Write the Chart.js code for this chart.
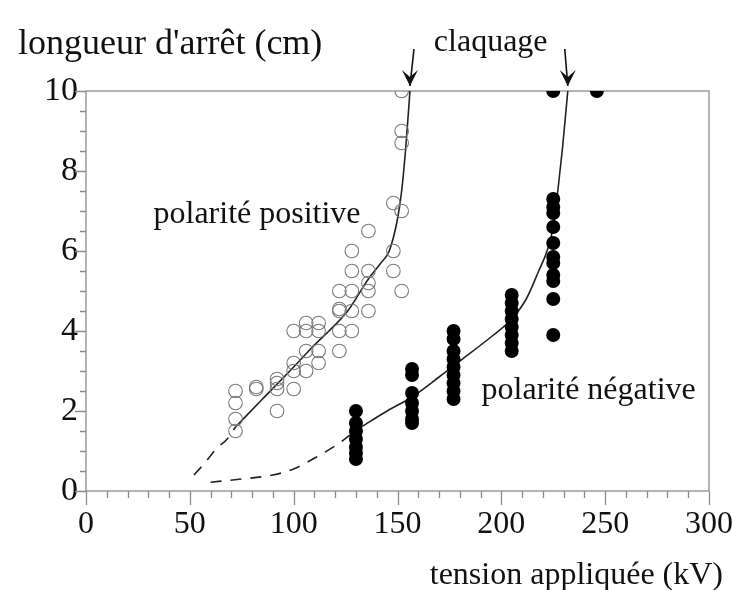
<!DOCTYPE html>
<html>
<head>
<meta charset="utf-8">
<script src="https://cdn.jsdelivr.net/npm/chart.js@4"></script>
<style>
html,body{margin:0;padding:0;background:#fff;}
#wrap{width:733px;height:590px;}
</style>
</head>
<body>
<div id="wrap"><canvas id="c" width="733" height="590"></canvas></div>
<script>
// ---- data (kV, cm) ----
const xTicks = [0, 50, 100, 150, 200, 250, 300];
const yTicks = [0, 2, 4, 6, 8, 10];

const posKV  = [72,72,72,72, 82,82, 92,92,92,92, 100,100,100,100, 106,106,106,106, 112,112,112,112, 122,122,122,122,122, 128,128,128,128,128, 136,136,136,136,136, 148,148,148, 152,152,152,152,152];
const posLen = [2.5,2.2,1.8,1.5, 2.6,2.55, 2.8,2.7,2.55,2.0, 4.0,3.2,3.0,2.55, 4.2,4.0,3.5,3.0, 4.2,4.0,3.5,3.2, 5.0,4.55,4.5,4.0,3.5, 6.0,5.5,5.0,4.5,4.0, 6.5,5.5,5.2,5.0,4.5, 7.2,6.0,5.5, 10,9.0,8.7,7.0,5.0];

const negKV  = [130,130,130,130,130,130,130, 157,157,157,157,157,157,157, 177,177,177,177,177,177,177,177,177, 205,205,205,205,205,205,205,205, 225,225,225,225,225,225,225,225,225,225,225,225, 246];
const negLen = [2.0,1.7,1.5,1.3,1.1,0.95,0.8, 3.05,2.9,2.45,2.2,2.0,1.8,1.7, 4.0,3.8,3.5,3.3,3.1,2.9,2.7,2.5,2.3, 4.9,4.7,4.5,4.3,4.1,3.9,3.7,3.5, 10,7.3,7.1,6.95,6.6,6.2,5.85,5.7,5.4,5.25,4.8,3.9, 10];

const posDashKV   = [52, 58, 63, 68, 72];
const posDashLen  = [0.4, 0.75, 1.07, 1.3, 1.6];
const posCurveKV  = [72, 85, 100, 110, 117, 126, 136, 142, 146, 150, 152, 154, 156];
const posCurveLen = [1.6, 2.3, 3.1, 3.65, 4.0, 4.5, 5.3, 5.7, 6.0, 6.8, 7.5, 8.6, 10];

const negDashKV   = [60, 75, 90, 100, 111, 122, 131];
const negDashLen  = [0.22, 0.3, 0.4, 0.55, 0.85, 1.2, 1.55];
const negCurveKV  = [131, 145, 157, 170, 180, 195, 205, 212, 218, 222, 225, 227, 229.5, 232];
const negCurveLen = [1.55, 2.0, 2.35, 2.85, 3.25, 3.85, 4.3, 4.8, 5.5, 6.0, 6.6, 7.4, 8.6, 10];

const breakdownKV = [156, 232];

const yTitle = "longueur d'arrêt (cm)";
const xTitle = "tension appliquée (kV)";
const breakdownLabel = "claquage";
const posLabel = "polarité positive";
const negLabel = "polarité négative";
const posLabelAt = [32.5, 6.9];
const negLabelAt = [190.5, 2.5];

// ---- helpers ----
const zip = (xs, ys) => xs.map((x, i) => ({x: x, y: ys[i]}));
const SERIF = "'Liberation Serif', 'Times New Roman', serif";
const FRAME = '#8c8c8c';

const decor = {
  id: 'decor',
  beforeDatasetsDraw(chart) {
    const ctx = chart.ctx, a = chart.chartArea;
    const xs = chart.scales.x, ys = chart.scales.y;
    ctx.save();
    ctx.strokeStyle = FRAME;
    ctx.lineWidth = 1.3;
    ctx.strokeRect(a.left, a.top, a.right - a.left, a.bottom - a.top);
    ctx.beginPath();
    for (let v = 0; v <= 10.001; v += 0.5) {
      const p = Math.round(ys.getPixelForValue(v)) + 0.5;
      const major = Math.abs(v / 2 - Math.round(v / 2)) < 1e-6;
      ctx.moveTo(a.left, p);
      ctx.lineTo(a.left - (major ? 11 : 6), p);
    }
    for (let v = 0; v <= 300; v += 10) {
      const p = Math.round(xs.getPixelForValue(v)) + 0.5;
      const major = v % 50 === 0;
      ctx.moveTo(p, a.bottom);
      ctx.lineTo(p, a.bottom + (major ? 14 : 7));
    }
    ctx.stroke();
    ctx.restore();
  },
  afterDraw(chart) {
    const ctx = chart.ctx, a = chart.chartArea;
    const xs = chart.scales.x, ys = chart.scales.y;
    ctx.save();
    ctx.fillStyle = '#111';
    ctx.textBaseline = 'middle';
    ctx.textAlign = 'left';
    ctx.font = '36px ' + SERIF;
    ctx.fillText(yTitle, a.left - 68, a.top - 46);
    ctx.font = '32px ' + SERIF;
    ctx.fillText(breakdownLabel, xs.getPixelForValue(167.5), a.top - 48);
    ctx.fillText(posLabel, xs.getPixelForValue(posLabelAt[0]), ys.getPixelForValue(posLabelAt[1]));
    ctx.fillText(negLabel, xs.getPixelForValue(negLabelAt[0]), ys.getPixelForValue(negLabelAt[1]));
    ctx.textAlign = 'right';
    ctx.fillText(xTitle, a.right + 14, a.bottom + 85);
    ctx.strokeStyle = '#111';
    ctx.lineWidth = 1.6;
    const tipY = ys.getPixelForValue(10) - 5;
    breakdownKV.forEach((kv, i) => {
      const tx = xs.getPixelForValue(kv);
      const topX = tx + (i === 0 ? 4 : -3);
      const topY = tipY - 37;
      ctx.beginPath();
      ctx.moveTo(topX, topY);
      ctx.lineTo(tx, tipY);
      ctx.stroke();
      ctx.beginPath();
      ctx.moveTo(tx, tipY);
      ctx.lineTo(tx - 8, tipY - 16);
      ctx.lineTo(tx, tipY - 9);
      ctx.lineTo(tx + 8, tipY - 16);
      ctx.closePath();
      ctx.fillStyle = '#111';
      ctx.fill();
    });
    ctx.restore();
  }
};

new Chart(document.getElementById('c'), {
  type: 'scatter',
  data: {
    datasets: [
      {data: zip(posDashKV, posDashLen), showLine: true, borderColor: '#222', borderWidth: 1.6, borderDash: [11, 9], pointRadius: 0, cubicInterpolationMode: 'monotone', order: 3},
      {data: zip(posCurveKV, posCurveLen), showLine: true, borderColor: '#222', borderWidth: 1.6, pointRadius: 0, cubicInterpolationMode: 'monotone', order: 3},
      {data: zip(negDashKV, negDashLen), showLine: true, borderColor: '#222', borderWidth: 1.6, borderDash: [11, 9], pointRadius: 0, cubicInterpolationMode: 'monotone', order: 3},
      {data: zip(negCurveKV, negCurveLen), showLine: true, borderColor: '#222', borderWidth: 1.6, pointRadius: 0, cubicInterpolationMode: 'monotone', order: 3},
      {data: zip(posKV, posLen), pointRadius: 6.8, pointBorderWidth: 1.1, pointBorderColor: '#7a7a7a', pointBackgroundColor: 'rgba(0,0,0,0)', order: 2},
      {data: zip(negKV, negLen), pointRadius: 7, pointBorderWidth: 0, pointBackgroundColor: '#000', pointBorderColor: '#000', order: 1}
    ]
  },
  options: {
    responsive: false,
    animation: false,
    events: [],
    layout: {padding: {top: 91, right: 24, left: 0, bottom: 0}},
    plugins: {legend: {display: false}, tooltip: {enabled: false}},
    scales: {
      x: {
        type: 'linear', min: 0, max: 300,
        afterFit(s) { s.height = 99; s.paddingLeft = 0; s.paddingRight = 0; },
        afterBuildTicks(s) { s.ticks = xTicks.map(v => ({value: v})); },
        grid: {display: false, drawTicks: false}, border: {display: false},
        ticks: {color: '#111', font: {family: SERIF, size: 32}, padding: 14, maxRotation: 0, autoSkip: false}
      },
      y: {
        type: 'linear', min: 0, max: 10,
        afterFit(s) { s.width = 86; s.paddingTop = 0; s.paddingBottom = 0; },
        afterBuildTicks(s) { s.ticks = yTicks.map(v => ({value: v})); },
        grid: {display: false, drawTicks: false}, border: {display: false},
        ticks: {color: '#111', font: {family: SERIF, size: 34}, padding: 8}
      }
    }
  },
  plugins: [decor]
});
</script>
</body>
</html>
